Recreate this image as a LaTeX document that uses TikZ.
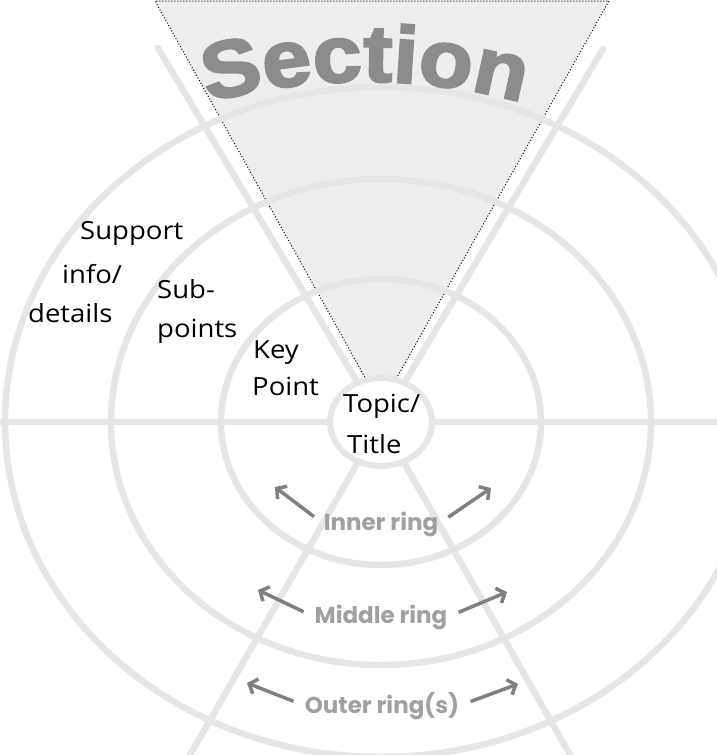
\documentclass[tikz,border=0pt]{standalone}
\usepackage{fontspec}
\usetikzlibrary{shapes.geometric,arrows.meta,decorations.text}
\newfontfamily\handfont{Open Sans}[FakeStretch=1.1]
\newfontfamily\ringfont{Poppins}
\newfontfamily\secfont{Liberation Sans}[BoldFeatures={FakeBold=3},FakeStretch=1.1]
\definecolor{ringgray}{HTML}{E6E6E6}
\definecolor{labelgray}{HTML}{A0A0A0}
\definecolor{arrowgray}{HTML}{808080}
\definecolor{secgray}{HTML}{8C8C8C}
\definecolor{wedgegray}{HTML}{EEEEEE}
\begin{document}
\begin{tikzpicture}[x=1pt,y=-1pt,
    ring/.style={draw=ringgray,line width=6.5pt},
    spoke/.style={draw=ringgray,line width=6.5pt,line cap=round},
    hand/.style={font=\handfont\fontsize{25}{30}\selectfont,anchor=base west,inner sep=0pt},
    ringlabel/.style={font=\ringfont\bfseries\fontsize{23}{28}\selectfont,text=labelgray,anchor=base,inner sep=0pt},
    ringarrow/.style={draw=arrowgray,line width=3.5pt,-{Straight Barb[length=7pt,width=16pt]},shorten <=12pt}]
    \useasboundingbox (0,0) rectangle (717,755);
    \clip (0,0) rectangle (717,755);
    % section wedge
    \fill[wedgegray] (155,0) -- (609,0) -- (392.7,385) -- (369.2,385) -- cycle;
    \draw[dotted,line width=1pt] (369.2,385) -- (155,1) -- (609,1) -- (392.7,385);
    % rings
    \coordinate (c) at (381,422);
    \draw[ring] (c) ellipse [x radius=160pt,y radius=143pt];
    \draw[ring] (c) ellipse [x radius=270pt,y radius=243pt];
    \draw[ring] (c) ellipse [x radius=376pt,y radius=335pt];
    \node[draw=ringgray,line width=6pt,fill=white,ellipse,minimum width=102pt,minimum height=88pt,inner sep=0pt] (hub) at (c) {};
    % spokes
    \coordinate (tl) at (158,48);
    \coordinate (tr) at (603,49);
    \coordinate (bl) at (170,790);
    \coordinate (br) at (590,790);
    \coordinate (le) at (-20,422);
    \coordinate (ri) at (740,422);
    \foreach \p in {tl,tr,bl,br,le,ri}
        \draw[spoke] (hub) -- (\p);
    % handwritten labels
    \node[hand] (sup) at (80,239) {Support};
    \node[hand] (info) at (62,283) {info/};
    \node[hand] (det) at (28,322) {details};
    \node[hand] (sub) at (157,298) {Sub-};
    \node[hand] (pts) at (157,337) {points};
    \node[hand] (key) at (253,358) {Key};
    \node[hand] (kpt) at (252,395) {Point};
    \node[hand] (topic) at (343,412) {Topic/};
    \node[hand] (title) at (347,453) {Title};
    % ring labels and arrows
    \node[ringlabel] (inner) at (381,530) {Inner ring};
    \node[ringlabel] (middle) at (381,623) {Middle ring};
    \node[ringlabel] (outer) at (382,713) {Outer ring(s)};
    \coordinate (inL) at (275,487);
    \coordinate (inR) at (491,488);
    \coordinate (midL) at (258,590);
    \coordinate (midR) at (507,592);
    \coordinate (outL) at (247,683);
    \coordinate (outR) at (518,684);
    \draw[ringarrow] (inner.west) -- (inL);
    \draw[ringarrow] (inner.east) -- (inR);
    \draw[ringarrow] (middle.west) -- (midL);
    \draw[ringarrow] (middle.east) -- (midR);
    \draw[ringarrow] (outer.west) -- (outL);
    \draw[ringarrow] (outer.east) -- (outR);
    % section title
    \path[decorate,decoration={text along path,text align=center,text color=secgray,
        text={|\bfseries\secfont\fontsize{80}{80}\selectfont|Section}}]
        (195,106) .. controls (306,73.2) and (424,73.2) .. (535,106);
\end{tikzpicture}
\end{document}
